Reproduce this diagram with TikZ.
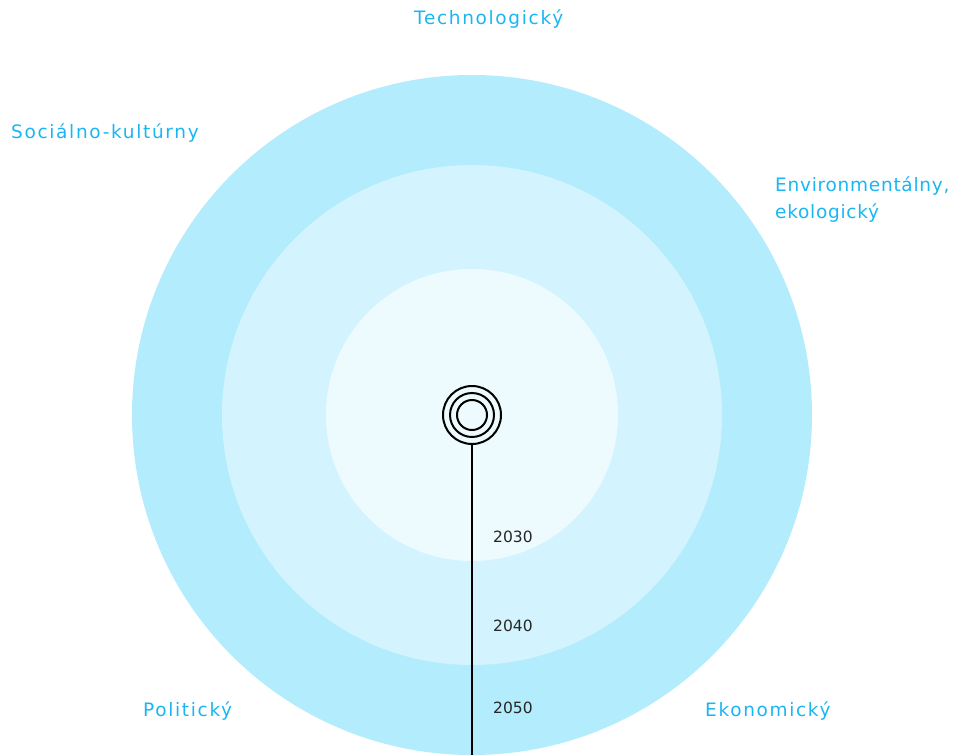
\documentclass[tikz,border=0pt]{standalone}
\usepackage{fontspec}
\setmainfont{DejaVu Sans}
\newfontfamily\areafont[LetterSpace=9]{DejaVu Sans}
\usepackage{tikz}
\usetikzlibrary{positioning}

\definecolor{ringout}{HTML}{B3ECFC}
\definecolor{ringmid}{HTML}{D3F4FE}
\definecolor{ringin}{HTML}{EEFBFE}
\definecolor{areablue}{HTML}{1AB6F3}

\tikzset{
    area/.style={anchor=base west, inner sep=0pt, text=areablue, font=\areafont\fontsize{18.5}{27}\selectfont, align=left},
    year/.style={anchor=base west, inner sep=0pt, text=black!85, font=\fontsize{15.5}{18}\selectfont}
}

\begin{document}
\begin{tikzpicture}[x=1pt, y=-1pt]
    \useasboundingbox (0,0) rectangle (957,755);

    % Time horizons
    \fill[ringout] (472,415) circle (340);
    \fill[ringmid] (472,415) circle (250);
    \fill[ringin] (472,415) circle (146);

    % Present
    \node[circle, draw, line width=2pt, minimum size=58pt, inner sep=0pt] (now) at (472,415) {};
    \draw[line width=2pt] (now.center) circle (22);
    \draw[line width=2pt] (now.center) circle (15);
    \coordinate (future) at (472,755);
    \draw[line width=1.3pt] (now.south) -- (future);

    % Years
    \node[year] (y2030) at (493,542) {2030};
    \node[year] (y2040) at (493,631) {2040};
    \node[year] (y2050) at (493,713) {2050};

    % Areas
    \node[area] (tech) at (414,24) {Technologický};
    \node[area] (soc) at (11,138) {Sociálno-kultúrny};
    \node[area, font=\areafont\addfontfeature{LetterSpace=4}\fontsize{18.5}{27}\selectfont] (env) at (775,218) {Environmentálny,\\ekologický};
    \node[area] (pol) at (143,716) {Politický};
    \node[area] (eko) at (705,716) {Ekonomický};
\end{tikzpicture}
\end{document}
